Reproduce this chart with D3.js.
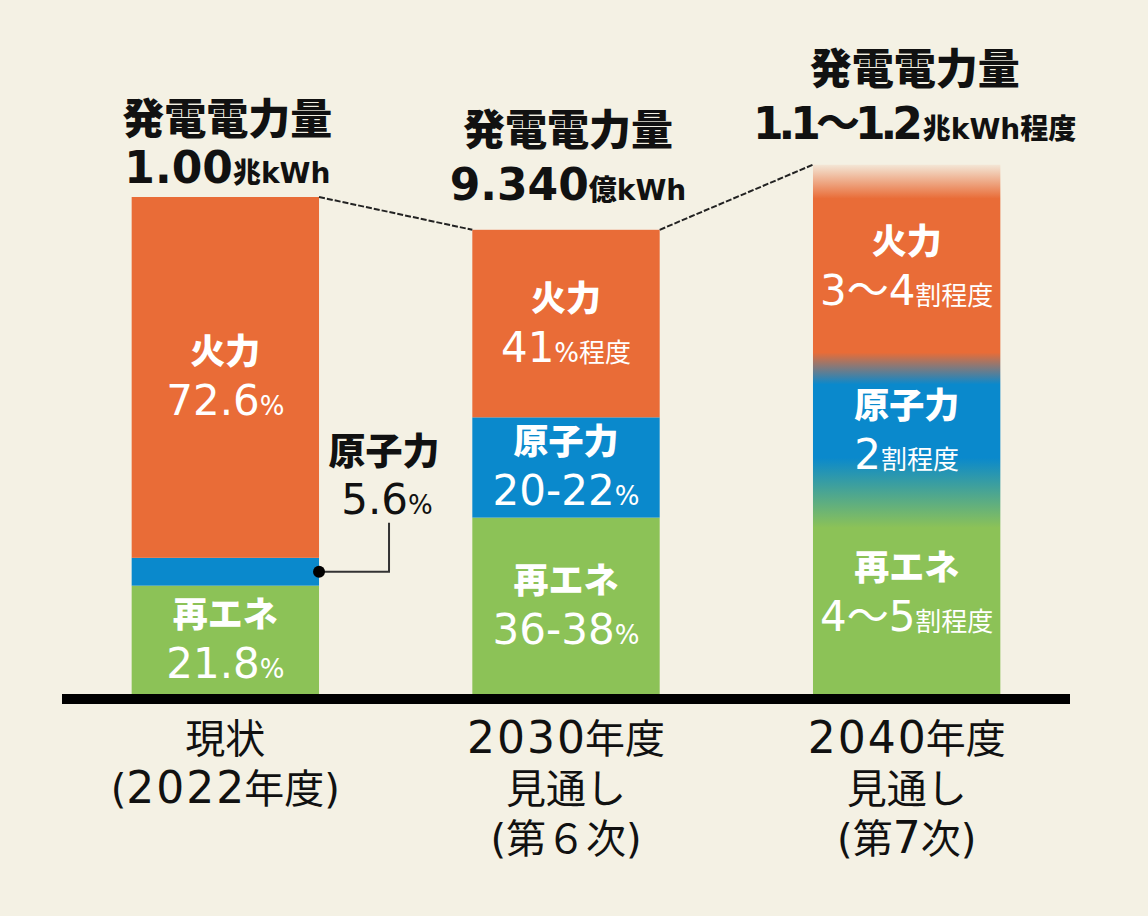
<!DOCTYPE html>
<html>
<head>
<meta charset="utf-8">
<script src="https://cdn.jsdelivr.net/npm/d3@7"></script>
<style>
  html, body { margin: 0; padding: 0; background: #f4f1e4; }
  svg { display: block; }
</style>
</head>
<body>
<script>
// data
const categories = ["現状", "2030年度", "2040年度"];
const categoryLabels = [
  ["現状", "(2022年度)"],
  ["2030年度", "見通し", "(第６次)"],
  ["2040年度", "見通し", "(第7次)"]
];
// 発電電力量 (兆kWh); 2040 is the height drawn for "1.1~1.2"
const totals = [1.00, 0.934, 1.065];
const totalLabels = ["1.00兆kWh", "9.340億kWh", "1.1～1.2兆kWh程度"];

const seriesKeys = ["再エネ", "原子力", "火力"];   // bottom -> top
const renewable = [21.8, 38.0, 38.0];
const nuclear = [5.6, 21.6, 23.5];
const thermal = [72.6, 40.4, 38.5];
const renewableLabels = ["21.8%", "36-38%", "4～5割程度"];
const nuclearLabels = ["5.6%", "20-22%", "2割程度"];
const thermalLabels = ["72.6%", "41%程度", "3～4割程度"];

const blendedBars = ["2040年度"];   // drawn with soft gradient edges

const width = 1148, height = 916;
const colors = {"火力": "#e96c37", "原子力": "#0a89cc", "再エネ": "#8cc257"};
const bg = "#f4f1e4";
// DejaVu first keeps the line boxes compact, kanji fall back to Noto CJK
const cjk = "'DejaVu Sans', 'Noto Sans CJK JP', sans-serif";
const num = "'DejaVu Sans', 'Noto Sans CJK JP', sans-serif";

// layout tweaks
const topNameLift = [78, 99, 95];
const topNumLift = [14, 30, 26];
const topNumSpacing = [0, 0, -5];

const svg = d3.select("body").append("svg")
    .attr("width", width)
    .attr("height", height)
    .attr("viewBox", [0, 0, width, height]);

svg.append("rect").attr("width", width).attr("height", height).attr("fill", bg);

const x = d3.scaleBand()
    .domain(categories)
    .range([62, 1070])
    .paddingInner(0.45)
    .paddingOuter(0.2045);

const y = d3.scaleLinear()
    .domain([0, 1])
    .range([694, 197]);

const rows = categories.map((c, i) => ({
  cat: c,
  "再エネ": totals[i] * renewable[i] / 100,
  "原子力": totals[i] * nuclear[i] / 100,
  "火力": totals[i] * thermal[i] / 100
}));
const stacked = d3.stack().keys(seriesKeys)(rows);
const labelsFor = {"再エネ": renewableLabels, "原子力": nuclearLabels, "火力": thermalLabels};

// split a string into number runs and the rest, each with its own style
function runs(text, str, numStyle, restStyle) {
  str.match(/[0-9.\-～]+|[^0-9.\-～]+/g).forEach((p, k) => {
    const isNum = /^[0-9.\-～]+$/.test(p);
    const st = isNum ? numStyle : restStyle;
    const t = text.append("tspan").text(p);
    Object.entries(st).forEach(([key, v]) => t.attr(key, v));
    if (!isNum && k > 0 && numStyle.gap) t.attr("dx", numStyle.gap);
  });
}

// plain bars
const plain = categories.filter(c => !blendedBars.includes(c));
svg.append("g")
  .selectAll("g")
  .data(stacked)
  .join("g")
    .attr("fill", d => colors[d.key])
  .selectAll("rect")
  .data(d => d.filter(s => plain.includes(s.data.cat)))
  .join("rect")
    .attr("x", d => x(d.data.cat))
    .attr("y", d => y(d[1]))
    .attr("width", x.bandwidth())
    .attr("height", d => y(d[0]) - y(d[1]));

// blended bars: one rect with a vertical gradient built from the stack
const defs = svg.append("defs");
blendedBars.forEach((c, bi) => {
  const i = categories.indexOf(c);
  const top = y(stacked[2][i][1]), bottom = y(0), h = bottom - top;
  const b1 = y(stacked[2][i][0]);   // 火力 / 原子力
  const b2 = y(stacked[1][i][0]);   // 原子力 / 再エネ
  const off = py => Math.max(0, Math.min(1, (py - top) / h));
  const stops = [
    [0, colors["火力"], 0.08],
    [off(top + 34), colors["火力"], 1],
    [off(b1 - 16), colors["火力"], 1],
    [off(b1 + 16), colors["原子力"], 1],
    [off(b2 - 35), colors["原子力"], 1],
    [off(b2 + 35), colors["再エネ"], 1],
    [1, colors["再エネ"], 1]
  ];
  const g = defs.append("linearGradient")
      .attr("id", "blend" + bi)
      .attr("x1", 0).attr("y1", 0).attr("x2", 0).attr("y2", 1);
  g.selectAll("stop").data(stops).join("stop")
      .attr("offset", d => d[0])
      .attr("stop-color", d => d[1])
      .attr("stop-opacity", d => d[2]);
  svg.append("rect")
      .attr("x", x(c))
      .attr("y", top)
      .attr("width", x.bandwidth())
      .attr("height", h)
      .attr("fill", `url(#blend${bi})`);
});

// dashed connectors between bar tops
const conn = svg.append("g")
    .attr("stroke", "#222")
    .attr("stroke-width", 2)
    .attr("stroke-dasharray", "6,2")
    .attr("fill", "none");
for (let i = 0; i < categories.length - 1; i++) {
  conn.append("line")
      .attr("x1", x(categories[i]) + x.bandwidth())
      .attr("y1", y(totals[i]))
      .attr("x2", x(categories[i + 1]))
      .attr("y2", y(totals[i + 1]));
}

// baseline
svg.append("line")
    .attr("x1", x.range()[0])
    .attr("x2", x.range()[1])
    .attr("y1", y(0) + 5)
    .attr("y2", y(0) + 5)
    .attr("stroke", "#000")
    .attr("stroke-width", 10);

// segment labels
const segLabels = svg.append("g").attr("text-anchor", "middle");
stacked.forEach(s => {
  s.forEach((d, i) => {
    const cx = x(d.data.cat) + x.bandwidth() / 2;
    const y0 = y(d[0]), y1 = y(d[1]);
    const mid = (y0 + y1) / 2;
    const small = y0 - y1 < 40;
    if (!small) {
      segLabels.append("text")
          .attr("x", cx).attr("y", mid - 25)
          .attr("dominant-baseline", "central")
          .attr("fill", "#fff")
          .attr("font-family", cjk)
          .attr("font-weight", 900)
          .attr("font-size", 35)
          .text(s.key);
      const t = segLabels.append("text")
          .attr("x", cx).attr("y", mid + 38)
          .attr("fill", "#fff");
      runs(t, labelsFor[s.key][i],
        {"font-family": num, "font-size": 42},
        {"font-family": cjk, "font-size": 26});
    } else {
      // callout to the right of the bar
      const ex = x(d.data.cat) + x.bandwidth();
      const lx = ex + 70;
      segLabels.append("path")
          .attr("d", `M${ex},${mid}H${lx}V${mid - 49}`)
          .attr("fill", "none")
          .attr("stroke", "#333")
          .attr("stroke-width", 2);
      segLabels.append("circle")
          .attr("cx", ex).attr("cy", mid).attr("r", 6)
          .attr("fill", "#000");
      segLabels.append("text")
          .attr("x", lx - 5).attr("y", mid - 119)
          .attr("dominant-baseline", "central")
          .attr("fill", "#111")
          .attr("font-family", cjk)
          .attr("font-weight", 900)
          .attr("font-size", 37)
          .text(s.key);
      const t = segLabels.append("text")
          .attr("x", lx - 2).attr("y", mid - 58)
          .attr("fill", "#111");
      runs(t, labelsFor[s.key][i],
        {"font-family": num, "font-size": 42},
        {"font-family": cjk, "font-size": 26});
    }
  });
});

// total labels above bars
const tops = svg.append("g").attr("text-anchor", "middle").attr("fill", "#111");
categories.forEach((c, i) => {
  const cx = x(c) + x.bandwidth() / 2 + (i === 2 ? 8 : 2);
  const top = y(totals[i]);
  tops.append("text")
      .attr("x", cx).attr("y", top - topNameLift[i])
      .attr("dominant-baseline", "central")
      .attr("font-family", cjk)
      .attr("font-weight", 900)
      .attr("font-size", 42)
      .text("発電電力量");
  const t = tops.append("text")
      .attr("x", cx).attr("y", top - topNumLift[i]);
  runs(t, totalLabels[i],
    {"font-family": num, "font-weight": "bold", "font-size": 44,
     "letter-spacing": topNumSpacing[i], gap: -topNumSpacing[i]},
    {"font-family": cjk, "font-weight": 900, "font-size": 28});
});

// category labels under the axis
const cats = svg.append("g").attr("text-anchor", "middle").attr("fill", "#111");
categories.forEach((c, i) => {
  const cx = x(c) + x.bandwidth() / 2;
  categoryLabels[i].forEach((line, j) => {
    const t = cats.append("text")
        .attr("x", cx).attr("y", y(0) + 59 + j * 50);
    runs(t, line,
      {"font-family": num, "font-size": 44, "letter-spacing": 2, gap: -2},
      {"font-family": cjk, "font-size": 40});
  });
});
</script>
</body>
</html>
